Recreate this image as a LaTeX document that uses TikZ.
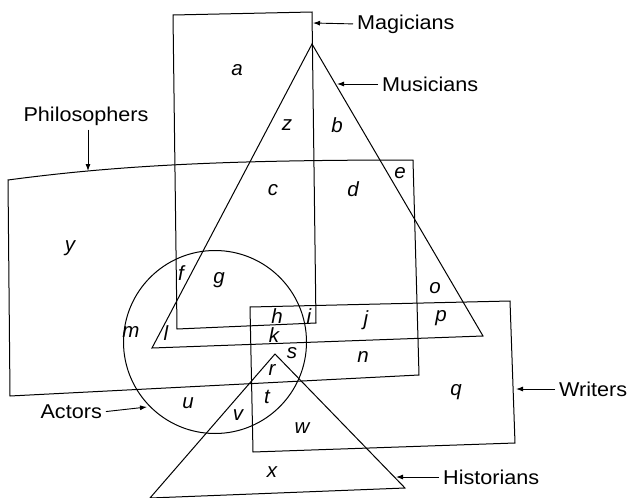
\documentclass[tikz,border=0pt]{standalone}
\usepackage{fontspec}
\setmainfont{Liberation Sans}
\newfontfamily\lblfont[FakeStretch=1.08]{Liberation Sans}
\usetikzlibrary{arrows.meta}
\begin{document}
\begin{tikzpicture}[x=1pt,y=-1pt,
  shapeline/.style={line width=1pt, line join=miter},
  region/.style={font=\fontsize{20.5}{20.5}\selectfont\itshape, inner sep=0pt},
  setlabel/.style={font=\lblfont\fontsize{20}{20}\selectfont, inner sep=0pt},
  pointer/.style={line width=0.9pt, shorten <=4pt, -{Latex[length=7pt,width=5pt]}}
]
\useasboundingbox (0,0) rectangle (632,498);
\clip (0,0) rectangle (632,498);
% Magicians
\draw[shapeline] (173,15) -- (312,12) -- (316,323) -- (177,329) -- cycle;
% Musicians
\draw[shapeline] (312,44) -- (483,336) -- (152,348) -- cycle;
% Philosophers
\draw[shapeline] (8,180) .. controls (120,165) and (230,160) .. (413,160) -- (419,375) -- (10,396) -- cycle;
% Writers
\draw[shapeline] (250,307) -- (510,301) -- (515,443) -- (253,452) -- cycle;
% Actors
\draw[shapeline] (215,342) circle[radius=91.5pt];
% Historians
\draw[shapeline] (275,354) -- (405,488) -- (150,498) -- cycle;

% set labels
\node[setlabel, anchor=west] (mag) at (357,24) {Magicians};
\coordinate (magtip) at (313,23);
\draw[pointer] (mag.west) -- (magtip);
\node[setlabel, anchor=west] (mus) at (382,84) {Musicians};
\coordinate (mustip) at (337,84);
\draw[pointer] (mus.west) -- (mustip);
\node[setlabel, anchor=west] (wri) at (559,389) {Writers};
\coordinate (writip) at (516,389);
\draw[pointer] (wri.west) -- (writip);
\node[setlabel, anchor=west] (his) at (443,477) {Historians};
\coordinate (histip) at (396,477);
\draw[pointer] (his.west) -- (histip);
\node[setlabel] (phi) at (86,116) {Philosophers};
\coordinate (phitip) at (88,171);
\draw[pointer] (phi.south -| phitip) -- (phitip);
\node[setlabel, anchor=east] (act) at (102,412) {Actors};
\coordinate (acttip) at (147,407);
\draw[pointer] (act.east) -- (acttip);

% region letters
\foreach \lt/\px/\py in {a/237/70, z/287/125, b/337/125, c/273/190, d/353/189, e/400/173,
  y/70/248, f/181/273, g/219/280, o/435/288, h/277/316, i/309/316, j/366/320, p/441/318,
  m/131/332, l/166/333, k/274/335, s/292/353, n/363/357, r/272/370, q/456/392,
  u/188/403, t/267/397, v/238/415, w/302/428, x/272/472}
  \node[region] (r\lt) at (\px,\py) {\lt};
\end{tikzpicture}
\end{document}
